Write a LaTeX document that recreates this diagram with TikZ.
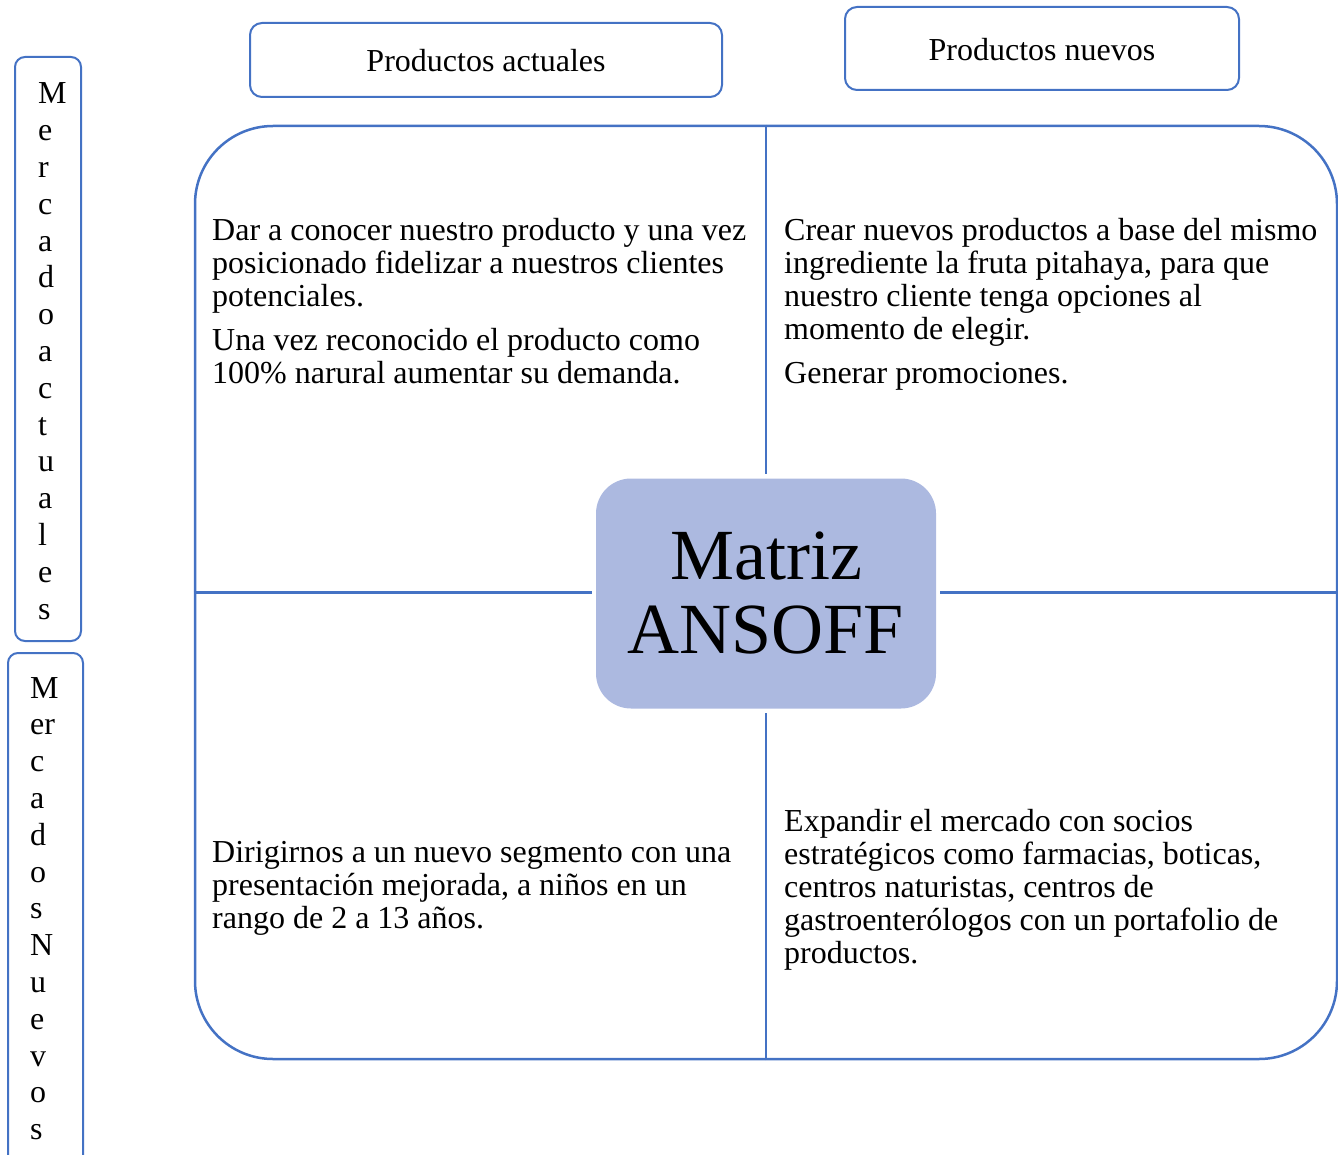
\documentclass[tikz,border=0pt]{standalone}
\usepackage{fontspec}
\setmainfont{Liberation Serif}
\definecolor{frameblue}{HTML}{4472C4}
\definecolor{hubfill}{HTML}{ACB9E0}
% natural interword spacing inside ragged nodes
\newcommand\natspace{\spaceskip=0pt\relax\xspaceskip=0pt\relax}
\tikzset{
  headbox/.style={draw=frameblue, line width=2pt, rounded corners=12pt, inner sep=0pt,
    font=\fontsize{32}{33}\selectfont, text height=26pt, text depth=2pt},
  sidebox/.style={draw=frameblue, line width=2pt, rounded corners=10pt, inner sep=0pt},
  quad/.style={anchor=base west, inner sep=0pt, align=left, text width=560pt,
    font=\fontsize{32}{33}\selectfont},
  letters/.style={anchor=base west, inner sep=0pt, align=left, text width=40pt,
    font=\fontsize{32}{36.8}\selectfont},
  divider/.style={draw=frameblue, line width=2.2pt, shorten >=4pt},
}
\begin{document}
\begin{tikzpicture}[x=1pt,y=-1pt]
  \clip (0,0) rectangle (1338,1155);

  % column headers
  \node[headbox, minimum width=472pt, minimum height=74pt] (pact) at (486,60) {Productos actuales};
  \node[headbox, minimum width=394pt, minimum height=83pt] (pnew) at (1042,48.5) {Productos nuevos};

  % row headers, one letter per line
  \node[sidebox, minimum width=66pt, minimum height=584pt] (mact) at (48,349) {};
  \node[sidebox, minimum width=75pt, minimum height=517pt] (mnew) at (45.5,911.5) {};
  \node[letters] (mactlbl) at (38,104) {M\\e\\r\\c\\a\\d\\o\\a\\c\\t\\u\\a\\l\\e\\s};
  \node[letters] (mnewlbl) at (30,698) {M\\er\\c\\a\\d\\o\\s\\N\\u\\e\\v\\o\\s};

  % outer frame of the matrix
  \node[draw=frameblue, line width=2.5pt, rounded corners=78pt, inner sep=0pt,
        minimum width=1142pt, minimum height=933pt] (frame) at (766,592.5) {};

  % central title
  \node[fill=hubfill, rounded corners=35pt, inner sep=0pt, minimum width=340pt,
        minimum height=230pt, align=center, font=\fontsize{72}{74}\selectfont]
        (hub) at (766,593.5) {Matriz\\ANSOFF};

  % quadrant dividers, kept straight
  \draw[divider] (frame.north) -- (frame.north |- hub.north);
  \draw[divider] (frame.south) -- (frame.south |- hub.south);
  \draw[divider] (frame.west) -- (frame.west -| hub.west);
  \draw[divider] (frame.east) -- (frame.east -| hub.east);

  % quadrant texts
  \node[quad] (q1) at (212,241) {\natspace Dar a conocer nuestro producto y una vez\\
    posicionado fidelizar a nuestros clientes\\potenciales.\\[11pt]
    Una vez reconocido el producto como\\100\% narural aumentar su demanda.};
  \node[quad] (q2) at (784,241) {\natspace Crear nuevos productos a base del mismo\\
    ingrediente la fruta pitahaya, para que\\nuestro cliente tenga opciones al\\
    momento de elegir.\\[11pt]Generar promociones.};
  \node[quad] (q3) at (212,862) {\natspace Dirigirnos a un nuevo segmento con una\\
    presentación mejorada, a niños en un\\rango de 2 a 13 años.};
  \node[quad] (q4) at (784,831) {\natspace Expandir el mercado con socios\\
    estratégicos como farmacias, boticas,\\centros naturistas, centros de\\
    gastroenterólogos con un portafolio de\\productos.};
\end{tikzpicture}
\end{document}
